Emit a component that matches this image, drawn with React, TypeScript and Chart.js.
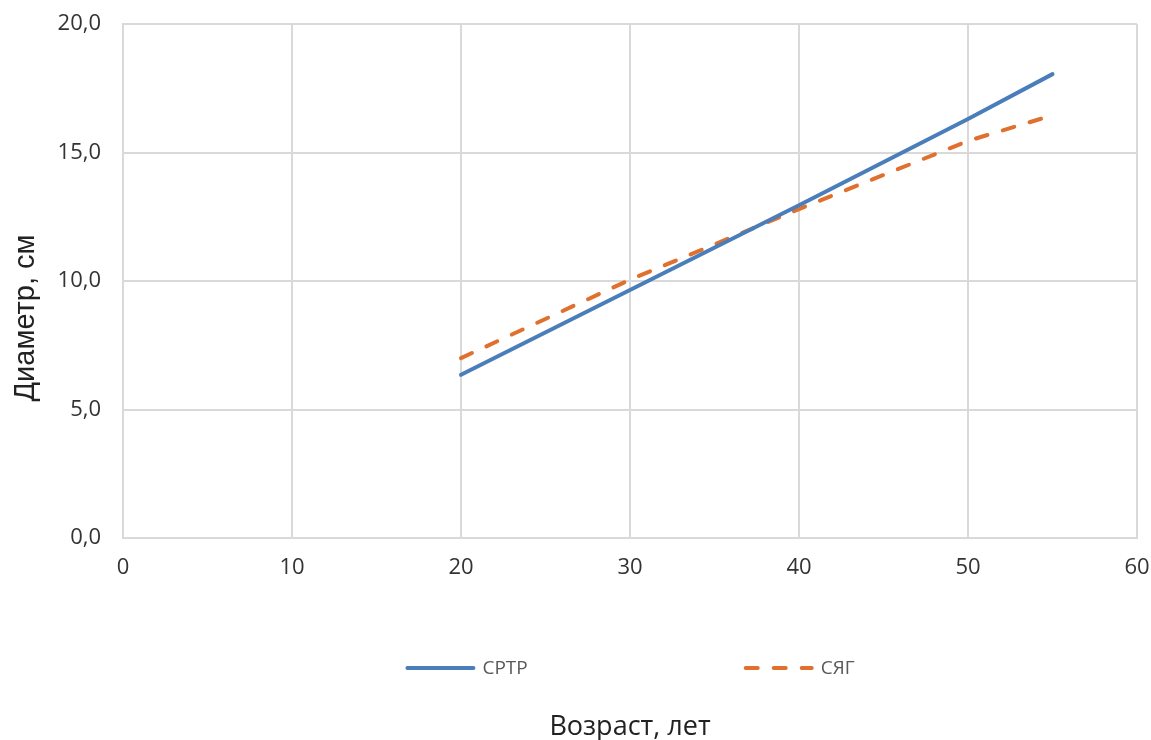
import React, { useEffect, useRef } from "react";
import { Chart, registerables } from "chart.js";

Chart.register(...registerables);

const ages = [20, 30, 40, 50, 55];
const srtrValues = [6.35, 9.65, 12.95, 16.3, 18.05];
const syagValues = [7.0, 10.05, 12.8, 15.45, 16.45];
const seriesLabels = ["СРТР", "СЯГ"];
const xTitle = "Возраст, лет";
const yTitle = "Диаметр, см";

const BLUE = "#4A7EBB";
const ORANGE = "#E0702E";
const GRID = "#D9D9D9";
const DASH = [12, 16];

const overlayPlugin = {
  id: "overlay",
  afterDraw(chart: any) {
    const { ctx, chartArea } = chart;
    const cx = (chartArea.left + chartArea.right) / 2;
    ctx.save();
    // legend
    ctx.font = "19px 'Open Sans'";
    ctx.textBaseline = "middle";
    ctx.textAlign = "left";
    const lineW = 70;
    const textGap = 7;
    const itemGap = 216;
    const ds = chart.data.datasets;
    const widths = ds.map((d: any) => lineW + textGap + ctx.measureText(d.label).width);
    const total = widths.reduce((a: number, b: number) => a + b, 0) + itemGap * (ds.length - 1);
    let x = cx - total / 2;
    const ly = chartArea.bottom + 130;
    ds.forEach((d: any, i: number) => {
      ctx.beginPath();
      ctx.strokeStyle = d.borderColor;
      ctx.lineWidth = d.borderWidth;
      ctx.lineCap = "round";
      ctx.setLineDash(d.borderDash || []);
      ctx.moveTo(x + 2, ly);
      ctx.lineTo(x + lineW - 2, ly);
      ctx.stroke();
      ctx.setLineDash([]);
      ctx.fillStyle = "#595959";
      ctx.fillText(d.label, x + lineW + textGap, ly + 1);
      x += widths[i] + itemGap;
    });
    // x title
    ctx.font = "27px 'Open Sans'";
    ctx.fillStyle = "#222222";
    ctx.textAlign = "center";
    ctx.fillText(xTitle, cx, chartArea.bottom + 189);
    // y title
    ctx.translate(26, (chartArea.top + chartArea.bottom) / 2 + 37);
    ctx.rotate(-Math.PI / 2);
    ctx.font = "29px 'Liberation Sans'";
    ctx.fillText(yTitle, 0, 0);
    ctx.restore();
  },
};

export default function App() {
  const ref = useRef<HTMLCanvasElement | null>(null);
  useEffect(() => {
    document.body.style.margin = "0";
    if (!ref.current) return;
    const fmt = (v: any) => Number(v).toFixed(1).replace(".", ",");
    const chart = new Chart(ref.current, {
      type: "line",
      data: {
        datasets: [
          {
            label: seriesLabels[0],
            data: ages.map((a, i) => ({ x: a, y: srtrValues[i] })),
            borderColor: BLUE,
            backgroundColor: BLUE,
            borderWidth: 4,
            borderCapStyle: "round",
            pointRadius: 0,
            tension: 0,
          },
          {
            label: seriesLabels[1],
            data: ages.map((a, i) => ({ x: a, y: syagValues[i] })),
            borderColor: ORANGE,
            backgroundColor: ORANGE,
            borderWidth: 4,
            borderDash: DASH,
            borderCapStyle: "round",
            pointRadius: 0,
            tension: 0,
          },
        ],
      },
      options: {
        animation: false,
        responsive: true,
        maintainAspectRatio: false,
        layout: { padding: { left: 58, top: 24, right: 14, bottom: 161 } },
        plugins: {
          legend: { display: false },
          tooltip: { enabled: false },
          title: { display: false },
        },
        scales: {
          x: {
            type: "linear",
            min: 0,
            max: 60,
            ticks: {
              stepSize: 10,
              padding: 17,
              color: "#333333",
              font: { family: "'Open Sans'", size: 22 },
            },
            grid: { color: GRID, lineWidth: 2, drawTicks: false },
            border: { color: GRID, width: 2 },
            afterFit: (s: any) => {
              s.height = 41;
              s.paddingLeft = 0;
              s.paddingRight = 0;
            },
          },
          y: {
            min: 0,
            max: 20,
            ticks: {
              stepSize: 5,
              padding: 22,
              color: "#333333",
              font: { family: "'Open Sans'", size: 22 },
              callback: fmt,
            },
            grid: { color: GRID, lineWidth: 2, drawTicks: false },
            border: { color: GRID, width: 2 },
            afterFit: (s: any) => {
              s.width = 65;
              s.paddingTop = 0;
              s.paddingBottom = 0;
            },
          },
        },
      },
      plugins: [overlayPlugin],
    } as any);
    return () => chart.destroy();
  }, []);
  return (
    <div style={{ width: 1151, height: 740, position: "relative" }}>
      <canvas ref={ref} />
    </div>
  );
}
